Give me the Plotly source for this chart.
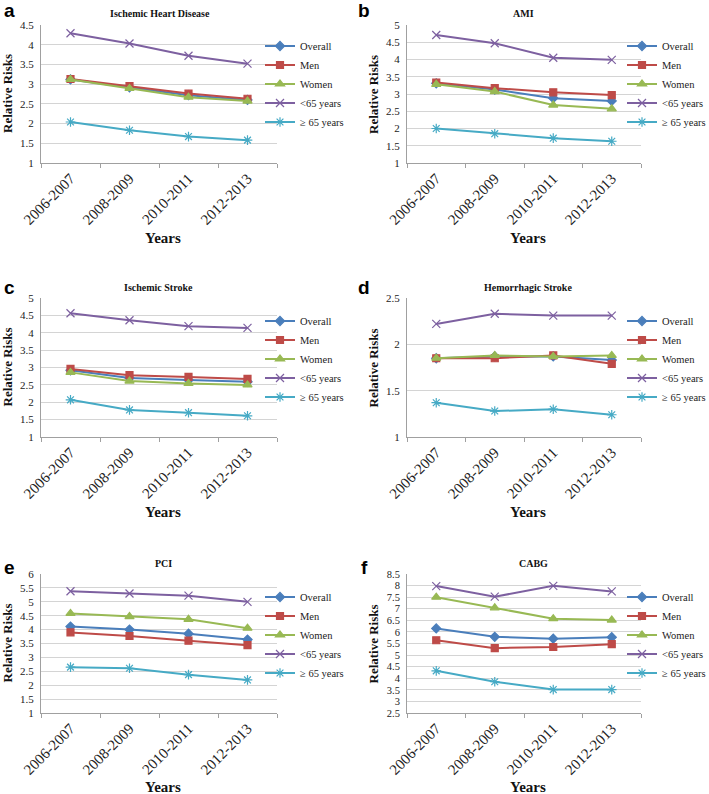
import plotly.graph_objects as go

periods = ["2006-2007", "2008-2009", "2010-2011", "2012-2013"]
series_names = ["Overall", "Men", "Women", "<65 years", "≥ 65 years"]

# Panel a: Ischemic Heart Disease
ihd_overall = [3.12, 2.92, 2.72, 2.60]
ihd_men = [3.13, 2.95, 2.76, 2.63]
ihd_women = [3.12, 2.89, 2.67, 2.57]
ihd_lt65 = [4.29, 4.03, 3.72, 3.52]
ihd_ge65 = [2.04, 1.83, 1.67, 1.58]

# Panel b: AMI
ami_overall = [3.31, 3.13, 2.88, 2.80]
ami_men = [3.33, 3.17, 3.05, 2.97]
ami_women = [3.28, 3.07, 2.68, 2.57]
ami_lt65 = [4.71, 4.47, 4.05, 3.99]
ami_ge65 = [2.00, 1.85, 1.72, 1.63]

# Panel c: Ischemic Stroke
is_overall = [2.92, 2.70, 2.64, 2.59]
is_men = [2.96, 2.78, 2.73, 2.67]
is_women = [2.86, 2.61, 2.54, 2.50]
is_lt65 = [4.56, 4.36, 4.19, 4.14]
is_ge65 = [2.07, 1.78, 1.70, 1.61]

# Panel d: Hemorrhagic Stroke
hs_overall = [1.85, 1.87, 1.87, 1.83]
hs_men = [1.85, 1.85, 1.88, 1.79]
hs_women = [1.85, 1.88, 1.87, 1.88]
hs_lt65 = [2.22, 2.33, 2.31, 2.31]
hs_ge65 = [1.37, 1.28, 1.30, 1.24]

# Panel e: PCI
pci_overall = [4.11, 4.00, 3.85, 3.64]
pci_men = [3.90, 3.77, 3.60, 3.44]
pci_women = [4.58, 4.47, 4.37, 4.05]
pci_lt65 = [5.38, 5.30, 5.22, 5.00]
pci_ge65 = [2.65, 2.61, 2.38, 2.19]

# Panel f: CABG
cabg_overall = [6.15, 5.79, 5.71, 5.77]
cabg_men = [5.64, 5.30, 5.35, 5.47]
cabg_women = [7.50, 7.04, 6.57, 6.51]
cabg_lt65 = [7.98, 7.52, 7.99, 7.75]
cabg_ge65 = [4.32, 3.85, 3.51, 3.51]

panel_titles = ["Ischemic Heart Disease", "AMI", "Ischemic Stroke",
                "Hemorrhagic Stroke", "PCI", "CABG"]
panel_letters = ["a", "b", "c", "d", "e", "f"]
y_ranges = [(1, 4.5), (1, 5), (1, 5), (1, 2.5), (1, 6), (2.5, 8.5)]
y_dticks = [0.5, 0.5, 0.5, 0.5, 0.5, 0.5]

panels = [
    [ihd_overall, ihd_men, ihd_women, ihd_lt65, ihd_ge65],
    [ami_overall, ami_men, ami_women, ami_lt65, ami_ge65],
    [is_overall, is_men, is_women, is_lt65, is_ge65],
    [hs_overall, hs_men, hs_women, hs_lt65, hs_ge65],
    [pci_overall, pci_men, pci_women, pci_lt65, pci_ge65],
    [cabg_overall, cabg_men, cabg_women, cabg_lt65, cabg_ge65],
]

W, H = 709, 794
colors = ["#4A7EBB", "#BE4B48", "#98B954", "#7D60A0", "#46AAC5"]
symbols = ["diamond", "square", "triangle-up", "x-thin-open", "asterisk-open"]
msizes = [7, 7, 8, 8, 8]

# pixel layout
px_x = [(41, 277), (407, 641)]
px_y = [(25, 163), (298, 437), (574, 713)]
title_px = [(160, 14), (523, 14), (158, 287), (528, 287), (163, 563), (533, 563)]
letter_px = [(9, 11), (364, 11), (9, 287), (364, 287), (9, 567), (364, 567)]
years_px = [(163, 238), (528, 238), (163, 512), (528, 512), (163, 787), (528, 787)]
legend_px = [(260, 84), (622, 84), (260, 359), (622, 359), (260, 635), (622, 635)]

SERIF = "Liberation Serif, Times New Roman, serif"

fig = go.Figure()
layout = dict(template="none", width=W, height=H,
              margin=dict(l=0, r=0, t=0, b=0, autoexpand=False),
              paper_bgcolor="white", plot_bgcolor="white", showlegend=True,
              font=dict(family=SERIF, size=12, color="#222"))
annotations = []

for i in range(6):
    r, c = divmod(i, 2)
    xa = "x" if i == 0 else f"x{i+1}"
    ya = "y" if i == 0 else f"y{i+1}"
    lg = "legend" if i == 0 else f"legend{i+1}"
    for k in range(5):
        fig.add_trace(go.Scatter(
            x=periods, y=panels[i][k], name=series_names[k], mode="lines+markers",
            line=dict(color=colors[k], width=2),
            marker=dict(symbol=symbols[k], size=msizes[k], color=colors[k],
                        line=dict(color=colors[k], width=1.2)),
            xaxis=xa, yaxis=ya, legend=lg))
    x0, x1 = px_x[c]
    y0, y1 = px_y[r]
    xkey = "xaxis" if i == 0 else f"xaxis{i+1}"
    ykey = "yaxis" if i == 0 else f"yaxis{i+1}"
    layout[xkey] = dict(domain=[x0 / W, x1 / W], anchor=ya, type="category",
                        tickson="boundaries", ticks="outside", ticklen=4,
                        tickcolor="#A0A0A0", showline=True, linecolor="#A0A0A0",
                        linewidth=1, showgrid=False, tickangle=-45, automargin=False,
                        tickfont=dict(family=SERIF, size=15, color="#222"),
                        range=[-0.5, 3.5], fixedrange=True, zeroline=False)
    lo, hi = y_ranges[i]
    layout[ykey] = dict(domain=[1 - y1 / H, 1 - y0 / H], anchor=xa, range=[lo, hi],
                        dtick=y_dticks[i], tick0=lo, showgrid=True, automargin=False,
                        gridcolor="#D4D4D4", gridwidth=1.2, showline=True,
                        linecolor="#A0A0A0", linewidth=1, ticks="", zeroline=False,
                        ticklabelstandoff=4, fixedrange=True,
                        tickfont=dict(family=SERIF, size=11 if i != 5 else 10.5,
                                      color="#222"))
    lx, ly = legend_px[i]
    layout[lg] = dict(x=lx / W, y=1 - ly / H, xanchor="left", yanchor="middle",
                      font=dict(family=SERIF, size=10.5, color="#222"),
                      bgcolor="rgba(0,0,0,0)", tracegroupgap=0, borderwidth=0,
                      itemwidth=30)
    tx, ty = title_px[i]
    annotations.append(dict(text=f"<b>{panel_titles[i]}</b>", x=tx / W, y=1 - ty / H,
                            xref="paper", yref="paper", showarrow=False,
                            xanchor="center", yanchor="middle",
                            font=dict(family=SERIF, size=10, color="#111")))
    lx2, ly2 = letter_px[i]
    annotations.append(dict(text=f"<b>{panel_letters[i]}</b>", x=lx2 / W, y=1 - ly2 / H,
                            xref="paper", yref="paper", showarrow=False,
                            xanchor="center", yanchor="middle",
                            font=dict(family="Liberation Sans, Arial, sans-serif",
                                      size=19, color="#000")))
    yx, yy = years_px[i]
    annotations.append(dict(text="<b>Years</b>", x=yx / W, y=1 - yy / H,
                            xref="paper", yref="paper", showarrow=False,
                            xanchor="center", yanchor="middle",
                            font=dict(family=SERIF, size=15, color="#111")))
    annotations.append(dict(text="<b>Relative Risks</b>", x=(x0 - 34) / W,
                            y=1 - ((y0 + y1) / 2) / H, xref="paper", yref="paper",
                            showarrow=False, textangle=-90, xanchor="center",
                            yanchor="middle",
                            font=dict(family=SERIF, size=13, color="#111")))

layout["annotations"] = annotations
fig.update_layout(**layout)
fig.write_html("out.html",
               config={"displayModeBar": False},
               post_script="document.body.style.margin='0';"
                           "document.body.style.overflow='hidden';")
